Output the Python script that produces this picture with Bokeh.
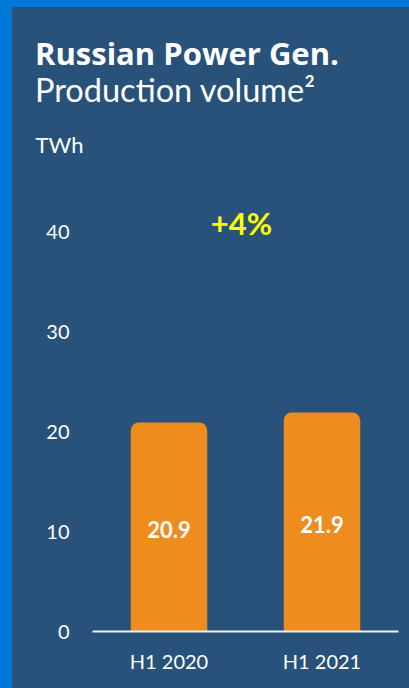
from bokeh.plotting import figure
from bokeh.layouts import column
from bokeh.models import ColumnDataSource, LabelSet, Label, FactorRange
from bokeh.embed import file_html
from bokeh.resources import INLINE
from bokeh.core.properties import value

# ---- data ----
periods = ["H1 2020", "H1 2021"]
volumes = [20.9, 21.9]
value_labels = ["20.9", "21.9"]
change_label = "+4%"
y_ticks = [0, 10, 20, 30, 40]
title_text = "Russian Power Gen."
subtitle_text = "Production volume\u00b2"
unit_text = "TWh"

# ---- style ----
BG = "#28527a"
EDGE = "#0078d7"
ORANGE = "#ee8c1e"
FONT = "Lato"
TITLE_FONT = "Open Sans"

src = ColumnDataSource(dict(
    period=periods,
    volume=volumes,
    mid=[v / 2 for v in volumes],
    label=value_labels,
))

# ---- header panel (pixel coordinates) ----
header = figure(
    width=397, height=153, x_range=(0, 397), y_range=(0, 153),
    output_backend="svg", toolbar_location=None,
    x_axis_type=None, y_axis_type=None, min_border=0,
    background_fill_color=None, border_fill_color=None, outline_line_color=None,
)
header.frame_align = False
header.add_layout(Label(x=22.5, y=107.2, text=title_text,
                        text_align="left", text_baseline="middle",
                        text_color="white", text_font=TITLE_FONT, text_font_style="bold",
                        text_font_size="31px"))
header.add_layout(Label(x=22.5, y=71.1, text=subtitle_text,
                        text_align="left", text_baseline="middle",
                        text_color="white", text_font=FONT, text_font_style="normal",
                        text_font_size="32.5px"))
header.add_layout(Label(x=23, y=16.1, text=unit_text,
                        text_align="left", text_baseline="middle",
                        text_color="white", text_font=FONT, text_font_style="normal",
                        text_font_size="22px"))

# ---- bar chart ----
chart = figure(
    x_range=FactorRange(*periods), y_range=(0, 47.1),
    width=397, height=528,
    output_backend="svg", toolbar_location=None,
    min_border_left=80, min_border_right=11, min_border_top=0, min_border_bottom=57,
    background_fill_color=None, border_fill_color=None, outline_line_color=None,
)
chart.frame_align = False

chart.vbar(x="period", top="volume", width=0.5, source=src,
           fill_color=ORANGE, line_color=None, border_radius=(8, 8, 0, 0))

chart.add_layout(LabelSet(x="period", y="mid", text="label", source=src, y_offset=-2,
                          text_align="center", text_baseline="middle",
                          text_color="white", text_font=value(FONT), text_font_style="bold",
                          text_font_size="22px"))

# change annotation, centred between the two bars
chart.add_layout(Label(x=len(periods) / 2, y=0, x_offset=-4, y_offset=408.5, text=change_label,
                       text_align="center", text_baseline="middle",
                       text_color="#ffff00", text_font=FONT, text_font_style="bold",
                       text_font_size="31px"))

chart.xgrid.grid_line_color = None
chart.ygrid.grid_line_color = None

chart.yaxis.ticker = y_ticks
chart.yaxis.axis_line_color = None
chart.yaxis.major_tick_line_color = None
chart.yaxis.minor_tick_line_color = None
chart.yaxis.major_label_standoff = 17
chart.yaxis.major_label_text_color = "white"
chart.yaxis.major_label_text_font = FONT
chart.yaxis.major_label_text_font_size = "20px"

chart.xaxis.axis_line_color = "#f0f0f0"
chart.xaxis.axis_line_width = 2
chart.xaxis.major_tick_line_color = None
chart.xaxis.minor_tick_line_color = None
chart.xaxis.major_label_standoff = 11
chart.xaxis.major_label_text_color = "white"
chart.xaxis.major_label_text_font = FONT
chart.xaxis.major_label_text_font_size = "20px"

p = column(header, chart, width=397, height=681, spacing=0)
p.styles = {
    "margin-left": "12px",
    "margin-top": "7px",
    "background-color": BG,
    "box-shadow": f"0 0 0 12px {EDGE}",
}

open("out.html", "w").write(file_html(p, INLINE))
